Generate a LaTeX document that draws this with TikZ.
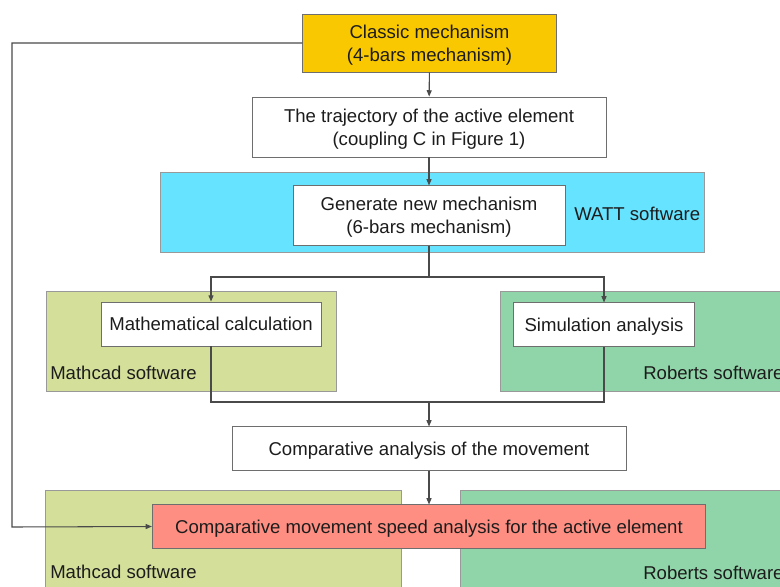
\documentclass[tikz,border=0pt]{standalone}
\usepackage{fontspec}
\setmainfont{Liberation Sans}
\usetikzlibrary{arrows.meta,backgrounds}

\definecolor{classicfill}{HTML}{F9C800}
\definecolor{wattfill}{HTML}{66E3FF}
\definecolor{mathcadfill}{HTML}{D4E09A}
\definecolor{robertsfill}{HTML}{90D5A9}
\definecolor{speedfill}{HTML}{FF8E82}
\definecolor{edgegray}{HTML}{6E6E6E}
\definecolor{linkgray}{HTML}{4A4A4A}
\definecolor{inkblack}{HTML}{1C1C1C}

\begin{document}
\begin{tikzpicture}[
    x=0.025cm, y=-0.025cm,
    font=\fontsize{13.2}{16.2}\selectfont,
    text=inkblack,
    >={Triangle[length=4.5pt,width=3.6pt]},
    box/.style={
        draw=edgegray,
        fill=white,
        align=center,
        line width=0.6pt,
        inner sep=0pt,
        text depth=0pt
    },
    area/.style={
        draw=edgegray!70,
        line width=0.6pt,
        inner sep=0pt
    },
    arealabel/.style={
        anchor=base west,
        inner sep=0pt
    },
    link/.style={
        draw=linkgray,
        line width=0.75pt
    }
]

\useasboundingbox (0,0) rectangle (780,586);
\clip (0,0) rectangle (780,586);

% Software areas
\node[area, fill=wattfill, minimum width=13.6cm, minimum height=1.98cm] (watt) at (432,212.5) {};
\node[area, fill=mathcadfill, minimum width=7.25cm, minimum height=2.5cm] (mathcad) at (191,341) {};
\node[area, fill=robertsfill, minimum width=7.5cm, minimum height=2.5cm] (roberts) at (650,341) {};
\node[area, fill=mathcadfill, minimum width=8.88cm, minimum height=3cm] (mathcadB) at (223.5,550) {};
\node[area, fill=robertsfill, minimum width=8.48cm, minimum height=3cm] (robertsB) at (630.5,550.5) {};

\node[arealabel] (wattlbl) at (574,220) {WATT software};
\node[arealabel] (mathcadlbl) at (50,379) {Mathcad software};
\node[arealabel] (robertslbl) at (643,379) {Roberts software};
\node[arealabel] (mathcadBlbl) at (50,578) {Mathcad software};
\node[arealabel] (robertsBlbl) at (643,579) {Roberts software};

% Process boxes
\node[box, fill=classicfill, minimum width=6.33cm, minimum height=1.45cm] (classic) at (429.5,43) {Classic mechanism\\(4-bars mechanism)};
\node[box, minimum width=8.85cm, minimum height=1.5cm] (traj) at (429,127) {The trajectory of the active element\\(coupling C in Figure 1)};
\node[box, minimum width=6.8cm, minimum height=1.48cm] (gen) at (429,215.5) {Generate new mechanism\\(6-bars mechanism)};
\node[box, minimum width=5.5cm, minimum height=1.1cm] (mathbox) at (211,324) {Mathematical calculation};
\node[box, minimum width=4.53cm, minimum height=1.08cm] (sim) at (604,324.5) {Simulation analysis};
\node[box, minimum width=9.85cm, minimum height=1.08cm] (comp) at (429,448.5) {Comparative analysis of the movement};
\node[box, fill=speedfill, minimum width=13.83cm, minimum height=1.08cm] (speed) at (429,526.5) {Comparative movement speed analysis for the active element};

% Connectors
\coordinate (split) at (429,277);
\coordinate (merge) at (429,402);
\coordinate (fb) at (12,527);

\draw[link, ->] (classic) -- (traj);
\draw[link, ->] (traj) -- (gen);
\draw[link] (gen.south) -- (split);
\draw[link, ->] (split) -| (mathbox.north);
\draw[link, ->] (split) -| (sim.north);
\draw[link] (mathbox.south) |- (merge);
\draw[link] (sim.south) |- (merge);
\draw[link, ->] (merge) -- (comp.north);
\draw[link, ->] (comp) -- (speed);
\draw[link, ->] (classic.west) -| (fb) -- (speed.west);

\end{tikzpicture}
\end{document}
